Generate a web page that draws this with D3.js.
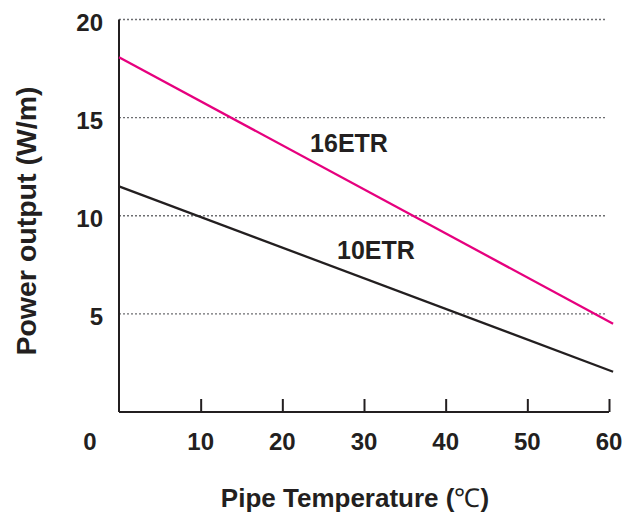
<!DOCTYPE html>
<html><head><meta charset="utf-8">
<script src="https://cdn.jsdelivr.net/npm/d3@7"></script>
<style>body{margin:0;background:#fff}svg{display:block}text{font-family:"Liberation Sans",Arial,sans-serif;font-weight:bold;fill:#231f20}</style>
</head><body><svg id="c" width="624" height="517"></svg>
<script>
const xTicks = [10, 20, 30, 40, 50, 60];
const yTicks = [5, 10, 15, 20];
const seriesNames = ["16ETR", "10ETR"];
const temps = [0, 60.5];
const etr16 = [18.08, 4.5];
const etr10 = [11.5, 2.05];
const colors = ["#e6007e", "#231f20"];
const labelPos = [[23.4, 13.25], [26.7, 7.8]];

const svg = d3.select("#c");
const x = d3.scaleLinear().domain([0, 60]).range([119, 609]);
const y = d3.scaleLinear().domain([0, 20]).range([412, 19.5]);

// gridlines
svg.append("g").selectAll("line").data(yTicks).join("line")
  .attr("x1", x(0)).attr("x2", 607).attr("y1", d => y(d)).attr("y2", d => y(d))
  .attr("stroke", "#6d6e71").attr("stroke-width", 1.3).attr("stroke-dasharray", "2,2");

// x axis
const xa = svg.append("g").attr("transform", `translate(0,${y(0)})`)
  .call(d3.axisBottom(x).tickValues(xTicks).tickSize(-13).tickFormat(""));
xa.select(".domain").attr("d", `M${x(0)},0H${x(60)}`);
xa.selectAll("line,path").attr("stroke", "#231f20").attr("stroke-width", 2);

// y axis
const ya = svg.append("g").attr("transform", `translate(${x(0)},0)`)
  .call(d3.axisLeft(y).tickValues([]).tickSize(0));
ya.select(".domain").attr("d", `M0,${y(0)}V${y(20)}`).attr("stroke", "#231f20").attr("stroke-width", 2);

// tick labels
svg.append("g").selectAll("text").data(xTicks).join("text")
  .attr("x", d => x(d)).attr("y", 450).attr("text-anchor", "middle")
  .attr("font-size", 24).text(d => d);
svg.append("text").attr("x", 90).attr("y", 450).attr("text-anchor", "middle").attr("font-size", 24).text("0");
svg.append("g").selectAll("text").data(yTicks).join("text")
  .attr("x", 103).attr("y", d => y(d) + 11.5).attr("text-anchor", "end")
  .attr("font-size", 24).text(d => d);

// lines
const series = [etr16, etr10];
const line = d3.line().x((d, i) => x(temps[i])).y(d => y(d));
svg.append("g").selectAll("path").data(series).join("path")
  .attr("d", d => line(d)).attr("fill", "none")
  .attr("stroke", (d, i) => colors[i]).attr("stroke-width", 2.3);

// series labels
svg.append("g").selectAll("text").data(seriesNames).join("text")
  .attr("x", (d, i) => x(labelPos[i][0])).attr("y", (d, i) => y(labelPos[i][1]))
  .attr("font-size", 25).text(d => d);

// titles
svg.append("text").attr("transform", "translate(36,221) rotate(-90)")
  .attr("text-anchor", "middle").attr("font-size", 28.5).text("Power output (W/m)");
const xt = svg.append("text").attr("x", 355).attr("y", 507).attr("text-anchor", "middle").attr("font-size", 26);
xt.append("tspan").text("Pipe Temperature (");
xt.append("tspan").attr("font-weight", "normal").text("℃");
xt.append("tspan").text(")");
</script></body></html>
